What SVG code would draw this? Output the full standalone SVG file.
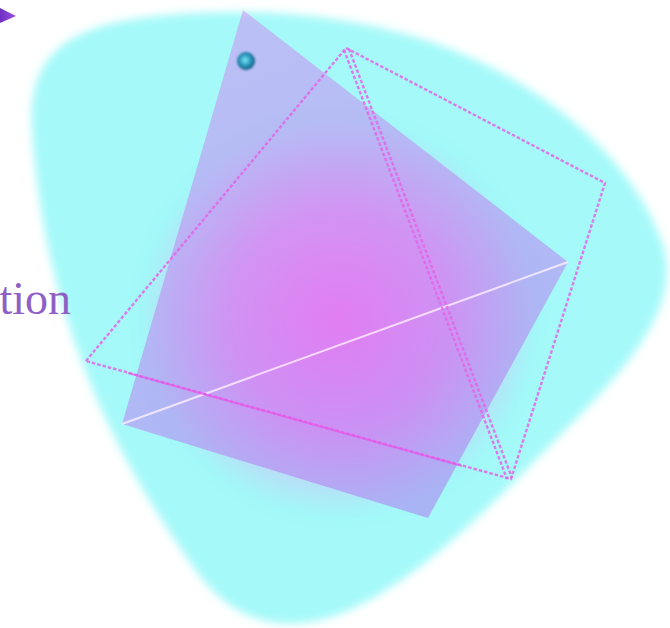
<svg xmlns="http://www.w3.org/2000/svg" width="670" height="628" viewBox="0 0 670 628">
  <defs>
    <radialGradient id="glow" gradientUnits="userSpaceOnUse" cx="338" cy="318" r="220">
      <stop offset="0" stop-color="#ff8cf4"/>
      <stop offset="0.5" stop-color="#dcb4f6"/>
      <stop offset="0.9" stop-color="#a2f8f8"/>
      <stop offset="1" stop-color="#a6f9f9"/>
    </radialGradient>
    <radialGradient id="dotg" cx="0.45" cy="0.45" r="0.55">
      <stop offset="0" stop-color="#7ee6f2"/>
      <stop offset="0.55" stop-color="#2a9ac0"/>
      <stop offset="1" stop-color="#135a80"/>
    </radialGradient>
    <linearGradient id="arrowg" x1="0" y1="0" x2="1" y2="0">
      <stop offset="0" stop-color="#6a2cc0"/>
      <stop offset="1" stop-color="#9a50e0"/>
    </linearGradient>
    <linearGradient id="quadg" gradientUnits="userSpaceOnUse" x1="243" y1="10" x2="430" y2="500">
      <stop offset="0" stop-color="#d47af0"/>
      <stop offset="1" stop-color="#b060f0"/>
    </linearGradient>
    <filter id="soft" x="-10%" y="-10%" width="120%" height="120%">
      <feGaussianBlur stdDeviation="4"/>
    </filter>
    <filter id="dotblur" x="-50%" y="-50%" width="200%" height="200%">
      <feGaussianBlur stdDeviation="0.8"/>
    </filter>
    <style>
      .dash { fill: none; stroke: #e464e8; stroke-width: 2.4; stroke-dasharray: 3.5 2; stroke-opacity: 0.85; }
      .label { font-family: "Liberation Serif", "DejaVu Serif", serif; font-size: 46px; fill: #8e60c6; }
    </style>
  </defs>

  <rect width="670" height="628" fill="#ffffff"/>

  <g id="blob">
    <path d="M 32,130 C 28,60 60,30 140,18 C 250,4 390,12 500,72 C 585,118 640,180 663,245 C 680,300 640,355 575,420 C 505,490 430,575 345,612 C 270,642 222,610 192,565 C 125,470 45,330 32,130 Z" fill="url(#glow)" filter="url(#soft)"/>
  </g>

  <g id="arrow">
    <polygon points="-2,7 16,16 -2,24" fill="url(#arrowg)"/>
  </g>

  <g id="label">
    <text class="label" x="71" y="314" text-anchor="end">tion</text>
  </g>

  <g id="quad">
    <polygon points="243,10 568,262 428,518 122,424" fill="url(#quadg)" fill-opacity="0.45"/>
  </g>

  <g id="connectors">
    <line x1="122" y1="424" x2="568" y2="262" stroke="#fff0ff" stroke-opacity="0.8" stroke-width="2"/>
    <polygon class="dash" points="86,361 346,48 605,183 511,479"/>
    <line class="dash" x1="344" y1="50" x2="507" y2="479"/>
    <line class="dash" x1="349" y1="49" x2="512" y2="478"/>
    <line x1="128" y1="373" x2="462" y2="466" stroke="#ea4eea" stroke-width="2" stroke-opacity="0.6"/>
  </g>

  <g id="dot">
    <circle cx="246" cy="61" r="9" fill="url(#dotg)" filter="url(#dotblur)"/>
  </g>
</svg>
